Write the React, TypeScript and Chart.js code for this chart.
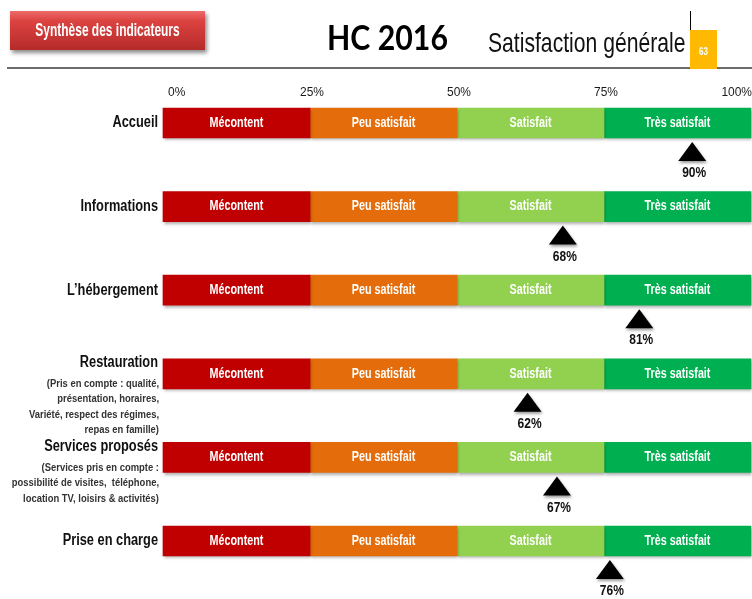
import React, { useEffect, useRef } from 'react';
import { Chart, registerables } from 'chart.js';

Chart.register(...registerables);

// ---- data ----
const categories = ['Accueil', 'Informations', 'L’hébergement', 'Restauration', 'Services proposés', 'Prise en charge'];
const categoryDetails: string[][] = [
  [],
  [],
  [],
  ['(Pris en compte : qualité,', 'présentation, horaires,', 'Variété, respect des régimes,', 'repas en famille)'],
  ['(Services pris en compte :', 'possibilité de visites,  téléphone,', 'location TV, loisirs & activités)'],
  [],
];
const levels = ['Mécontent', 'Peu satisfait', 'Satisfait', 'Très satisfait'];
const levelShares = [25, 25, 25, 25];
const levelColors = ['#C00000', '#E46C0A', '#92D050', '#00B050'];
const scores = [90, 68, 81, 62, 67, 76];
const tickValues = [0, 25, 50, 75, 100];
const headerButton = 'Synthèse des indicateurs';
const headerCode = 'HC 2016';
const headerSubject = 'Satisfaction générale';
const pageNumber = '63';

const FONT = '"Liberation Sans", Arial, sans-serif';

function drawText(
  ctx: CanvasRenderingContext2D,
  text: string,
  x: number,
  y: number,
  font: string,
  color: string,
  align: CanvasTextAlign,
  sx: number,
  baseline: CanvasTextBaseline = 'middle'
) {
  ctx.save();
  ctx.font = font;
  ctx.fillStyle = color;
  ctx.textAlign = align;
  ctx.textBaseline = baseline;
  ctx.translate(x, y);
  ctx.scale(sx, 1);
  ctx.fillText(text, 0, 0);
  ctx.restore();
}

const overlayPlugin = {
  id: 'overlay',
  beforeDatasetsDraw(chart: any) {
    const ctx = chart.ctx as CanvasRenderingContext2D;
    ctx.save();
    ctx.shadowColor = 'rgba(0,0,0,0.35)';
    ctx.shadowBlur = 3;
    ctx.shadowOffsetX = 1;
    ctx.shadowOffsetY = 2;
  },
  afterDatasetsDraw(chart: any) {
    const ctx = chart.ctx as CanvasRenderingContext2D;
    ctx.restore();
    const xScale = chart.scales.x;
    const yScale = chart.scales.y;
    const area = chart.chartArea;

    // percentage ticks along the top (from the x scale)
    tickValues.forEach((v, i) => {
      const px = xScale.getPixelForValue(v);
      const last = i === tickValues.length - 1;
      const first = i === 0;
      const align: CanvasTextAlign = first ? 'left' : last ? 'right' : 'center';
      const x = first ? px + 5 : last ? px + 1 : px + 2;
      drawText(ctx, `${v}%`, x, 92, `13px ${FONT}`, '#1a1a1a', align, 0.92);
    });

    // labels inside the bars
    levels.forEach((lv, k) => {
      const meta = chart.getDatasetMeta(k);
      meta.data.forEach((el: any) => {
        const cx = (el.x + el.base) / 2;
        drawText(ctx, lv, cx, el.y, `bold 14px ${FONT}`, '#ffffff', 'center', 0.77);
      });
    });

    // score markers
    scores.forEach((s, i) => {
      const x = xScale.getPixelForValue(s);
      const barBottom = yScale.getPixelForValue(i) + 15;
      const apex = barBottom + 4;
      ctx.save();
      ctx.shadowColor = 'rgba(0,0,0,0.4)';
      ctx.shadowBlur = 3;
      ctx.shadowOffsetX = 1;
      ctx.shadowOffsetY = 2;
      ctx.fillStyle = '#000';
      ctx.beginPath();
      ctx.moveTo(x, apex);
      ctx.lineTo(x + 14, apex + 19);
      ctx.lineTo(x - 14, apex + 19);
      ctx.closePath();
      ctx.fill();
      ctx.restore();
      drawText(ctx, `${s}%`, x + 2, barBottom + 35, `bold 15px ${FONT}`, '#111', 'center', 0.8);
    });

    // category labels
    categories.forEach((c, i) => {
      const yc = yScale.getPixelForValue(i);
      const det = categoryDetails[i];
      const ty = det.length ? yc - 11 : yc;
      drawText(ctx, c, area.left - 5, ty, `bold 16px ${FONT}`, '#111', 'right', 0.8);
      det.forEach((line, j) => {
        drawText(ctx, line, area.left - 4, ty + 21 + j * 15.5, `bold 11.5px ${FONT}`, '#333', 'right', 0.82);
      });
    });
  },
  afterDraw(chart: any) {
    const ctx = chart.ctx as CanvasRenderingContext2D;
    // red button
    ctx.save();
    ctx.shadowColor = 'rgba(0,0,0,0.45)';
    ctx.shadowBlur = 4;
    ctx.shadowOffsetX = 2;
    ctx.shadowOffsetY = 3;
    const g = ctx.createLinearGradient(0, 11, 0, 50);
    g.addColorStop(0, '#EE6B6B');
    g.addColorStop(0.25, '#DC4341');
    g.addColorStop(1, '#B52B29');
    ctx.fillStyle = g;
    ctx.fillRect(10, 11, 195, 39);
    ctx.restore();
    drawText(ctx, headerButton, 107.5, 31, `bold 19px ${FONT}`, '#ffffff', 'center', 0.63);

    // code title
    ctx.save();
    ctx.font = 'bold 35px Lato, "Open Sans", sans-serif';
    ctx.fillStyle = '#000';
    ctx.textAlign = 'left';
    ctx.textBaseline = 'alphabetic';
    ctx.fillText(headerCode, 327, 50, 121);
    ctx.restore();

    // subject
    drawText(ctx, headerSubject, 488, 52, `28px ${FONT}`, '#111', 'left', 0.755, 'alphabetic');

    // separator line
    ctx.fillStyle = '#6b6b6b';
    ctx.fillRect(7, 67, 745, 2);

    // thin vertical line + page tag
    ctx.fillStyle = '#000';
    ctx.fillRect(690, 11, 1, 19);
    ctx.fillStyle = '#FFB900';
    ctx.fillRect(690, 30, 27, 39);
    drawText(ctx, pageNumber, 703.5, 52, `bold 10px ${FONT}`, '#ffffff', 'center', 0.8);
  },
};

export default function App() {
  const ref = useRef<HTMLCanvasElement>(null);
  useEffect(() => {
    const chart = new Chart(ref.current as HTMLCanvasElement, {
      type: 'bar',
      data: {
        labels: categories,
        datasets: levels.map((lv, k) => ({
          label: lv,
          data: categories.map(() => levelShares[k]),
          backgroundColor: levelColors[k],
          borderWidth: 0,
          barThickness: 30,
          clip: false as any,
        })),
      },
      options: {
        indexAxis: 'y',
        responsive: false,
        animation: false,
        devicePixelRatio: 1,
        events: [],
        layout: { padding: { left: 163, right: 1, top: 123, bottom: 58 } },
        plugins: { legend: { display: false }, tooltip: { enabled: false } },
        scales: {
          x: {
            type: 'linear',
            display: false,
            stacked: true,
            min: 0,
            max: 100,
          },
          y: {
            type: 'category',
            stacked: true,
            display: false,
            offset: false,
          },
        },
      } as any,
      plugins: [overlayPlugin],
    });
    return () => chart.destroy();
  }, []);
  return (
    <div style={{ position: 'fixed', left: 0, top: 0, width: 752, height: 599, background: '#fff' }}>
      <canvas ref={ref} width={752} height={599} style={{ display: 'block', width: 752, height: 599 }} />
    </div>
  );
}
